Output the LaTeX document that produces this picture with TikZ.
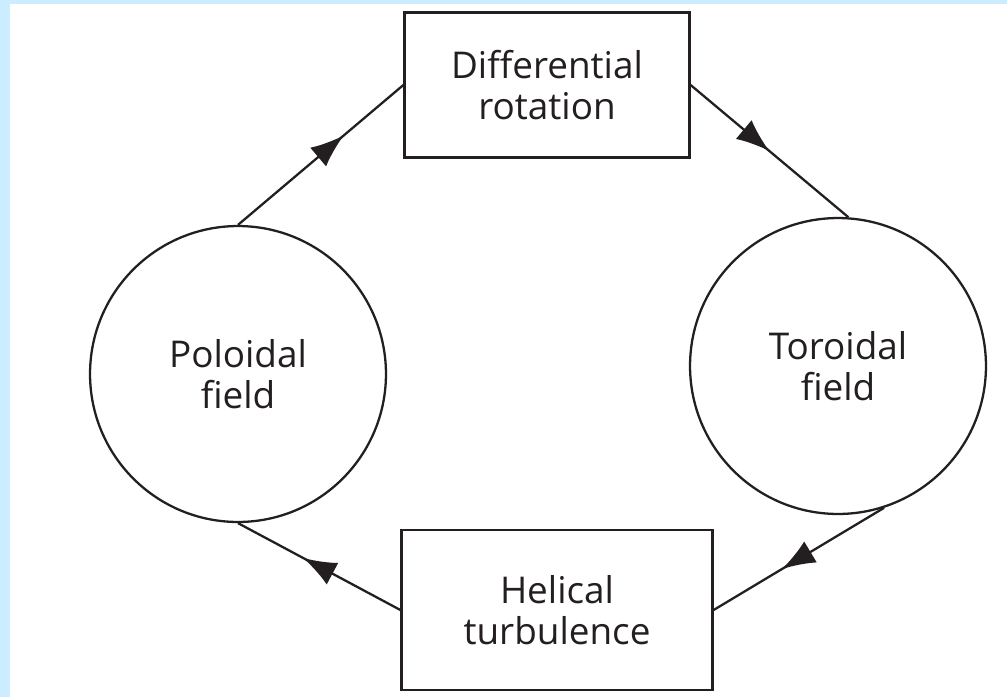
\documentclass[tikz,border=0pt]{standalone}
\usepackage{fontspec}
\setmainfont{Open Sans}
\usetikzlibrary{arrows.meta, decorations.markings}
\definecolor{framebg}{RGB}{204,236,255}
\definecolor{inkgray}{RGB}{35,31,32}

\begin{document}
\begin{tikzpicture}[
    x=0.02cm, y=-0.02cm,
    box/.style={rectangle, draw=inkgray, line width=1.3pt, align=center,
                text=inkgray, font=\fontsize{21}{23.5}\selectfont},
    field/.style={circle, draw=inkgray, line width=1.3pt, minimum size=5.92cm,
                  align=center, text=inkgray, font=\fontsize{21}{23.5}\selectfont},
    flow/.style={draw=inkgray, line width=1.3pt, postaction={decorate},
                 decoration={markings, mark=at position #1 with
                 {\arrow[inkgray]{Latex[length=19pt, width=14pt]}}}},
]
    % frame
    \fill[framebg] (0,0) rectangle (1007,697);
    \fill[white] (10,4) rectangle (1007,697);
    \useasboundingbox (0,0) rectangle (1007,697);

    \node[box, minimum width=5.7cm, minimum height=2.9cm]  (rot) at (547,85)  {Differential\\rotation};
    \node[field]                                           (pol) at (238,374) {Poloidal\\field};
    \node[field]                                           (tor) at (838,366) {Toroidal\\field};
    \node[box, minimum width=6.22cm, minimum height=3.2cm] (hel) at (557,610) {Helical\\turbulence};

    \draw[flow=0.64] (pol.north) -- (rot.west);
    \draw[flow=0.5]  (rot.east)  -- (tor.86);
    \draw[flow=0.6]  (tor.-72)   -- (hel.east);
    \draw[flow=0.6]  (hel.west)  -- (pol.south);
\end{tikzpicture}
\end{document}
